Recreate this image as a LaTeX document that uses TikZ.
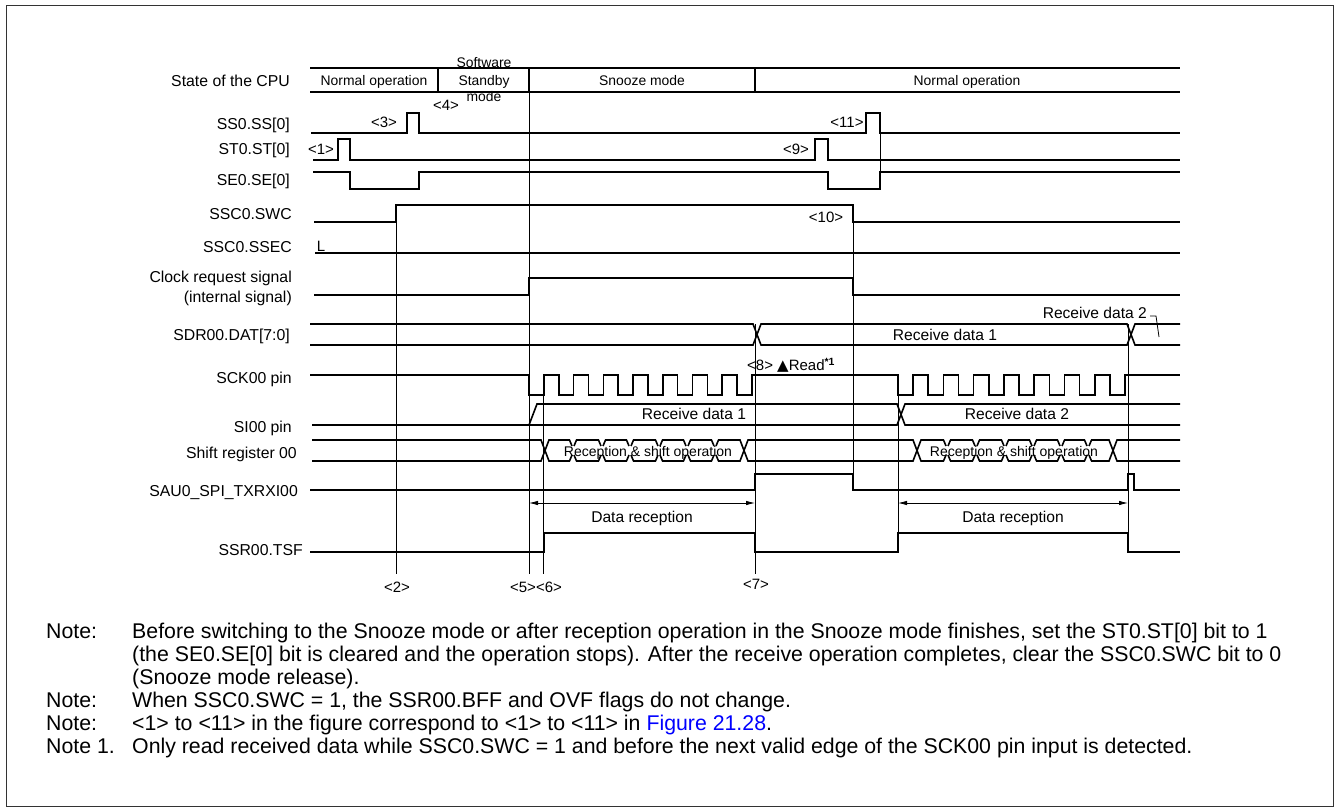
\documentclass[tikz,border=0pt]{standalone}
\usepackage{fontspec}
\setmainfont{Liberation Sans}
\newfontfamily\dejavu{DejaVu Sans}
\usetikzlibrary{arrows.meta}
\definecolor{linkblue}{RGB}{0,0,255}
\newcommand\lblsize{\fontsize{15.8}{18}\selectfont}
\newcommand\cpusize{\fontsize{13.9}{16}\selectfont}
\newcommand\txtsize{\fontsize{15.6}{18}\selectfont}
\newcommand\shsize{\fontsize{14}{16}\selectfont}
\newcommand\evtsize{\fontsize{15}{17}\selectfont}
\newcommand\notesize{\fontsize{21.3}{23}\selectfont}
\begin{document}
\begin{tikzpicture}[x=1pt,y=-1pt,
  wave/.style={line width=1.6pt, line join=miter},
  guide/.style={line width=0.8pt},
  frame/.style={line width=1pt, draw=black!80},
  lbl/.style={anchor=east, inner sep=0pt, font=\lblsize, text height=11.3pt, text depth=0pt},
  evt/.style={inner sep=0pt, font=\evtsize, text height=10.7pt, text depth=0pt},
  txt/.style={inner sep=0pt, font=\txtsize, text height=11.2pt, text depth=0pt},
  shtxt/.style={inner sep=0pt, font=\shsize, text height=10pt, text depth=0pt},
  cpu/.style={inner sep=0pt, font=\cpusize, text height=10pt, text depth=0pt},
  note/.style={anchor=west, inner sep=0pt, font=\notesize, text height=15.3pt, text depth=0pt},
  dim/.style={line width=0.8pt, {Latex[length=9pt,width=4.5pt]}-{Latex[length=9pt,width=4.5pt]}},
  gap/.style={fill=white, draw=none}
]
\useasboundingbox (0,0) rectangle (1340,810);
\draw[frame] (6,6) rectangle (1333,806);

% ---------- signal labels ----------
\node[lbl] (lcpu) at (290,81) {State of the CPU};
\node[lbl] (lss) at (290,124) {SS0.SS[0]};
\node[lbl] (lst) at (290,149) {ST0.ST[0]};
\node[lbl] (lse) at (290,180) {SE0.SE[0]};
\node[lbl] (lswc) at (292,214) {SSC0.SWC};
\node[lbl] (lssec) at (292,247) {SSC0.SSEC};
\node[lbl] (lclk) at (292,277) {Clock request signal};
\node[lbl] (lint) at (292,297) {(internal signal)};
\node[lbl] (lsdr) at (290,335) {SDR00.DAT[7:0]};
\node[lbl] (lsck) at (292,378) {SCK00 pin};
\node[lbl] (lsi) at (292,427) {SI00 pin};
\node[lbl] (lsh) at (297,453) {Shift register 00};
\node[lbl] (lsau) at (298,491) {SAU0\_SPI\_TXRXI00};
\node[lbl] (ltsf) at (303,550) {SSR00.TSF};

% ---------- CPU state row ----------
\draw[wave] (310,68) -- (1180,68);
\draw[wave] (310,92) -- (1180,92);
\draw[wave] (438,68) -- (438,92);
\draw[wave] (529,68) -- (529,92);
\draw[wave] (755,68) -- (755,92);
\node[cpu] (c1) at (374,81) {Normal operation};
\node[cpu] (c2a) at (484,63) {Software};
\node[cpu] (c2b) at (484,81) {Standby};
\node[cpu] (c2c) at (484,97) {mode};
\node[cpu] (c3) at (642,81) {Snooze mode};
\node[cpu] (c4) at (967,81) {Normal operation};

% ---------- guide lines ----------
\draw[guide] (529,92) -- (529,574);
\draw[guide] (396,205) -- (396,574);
\draw[guide] (543,375) -- (543,574);
\draw[guide] (755,324) -- (755,574);
\draw[guide] (853,205) -- (853,490);
\draw[guide] (880,113) -- (880,189);
\draw[guide] (898,375) -- (898,533);
\draw[guide] (1128,324) -- (1128,552);

% ---------- SS0 / ST0 / SE0 ----------
\draw[wave] (311,133) -- (407,133) -- (407,113) -- (419,113) -- (419,133) -- (866,133) -- (866,113) -- (880,113) -- (880,133) -- (1180,133);
\draw[wave] (313,160) -- (338,160) -- (338,139) -- (350,139) -- (350,160) -- (815,160) -- (815,139) -- (828,139) -- (828,160) -- (1180,160);
\draw[wave] (313,172) -- (350,172) -- (350,189) -- (419,189) -- (419,172) -- (828,172) -- (828,189) -- (880,189) -- (880,172) -- (1180,172);
\node[evt] (e1) at (321,149) {<1>};
\node[evt] (e3) at (384,122) {<3>};
\node[evt] (e4) at (446,105) {<4>};
\node[evt] (e9) at (796,149) {<9>};
\node[evt] (e11) at (847,122) {<11>};

% ---------- SWC / SSEC / clock request ----------
\draw[wave] (314,222) -- (396,222) -- (396,205) -- (853,205) -- (853,222) -- (1180,222);
\node[evt] (e10) at (826,217) {<10>};
\draw[wave] (315,253) -- (1180,253);
\node[evt] (lL) at (321,246) {L};
\draw[wave] (314,295) -- (529,295) -- (529,278) -- (853,278) -- (853,295) -- (1180,295);

% ---------- SDR00 ----------
\draw[wave] (310,324) -- (753,324) -- (761,345) -- (1127,345) -- (1135,324) -- (1180,324);
\draw[wave] (310,345) -- (753,345) -- (761,324) -- (1127,324) -- (1135,345) -- (1180,345);
\node[txt] (rd1) at (945,335) {Receive data 1};
\node[txt, anchor=east] (rd2) at (1147,313) {Receive data 2};
\coordinate (hk1) at (1150,316);
\coordinate (hk2) at (1156,316);
\coordinate (hk3) at (1159,337);
\draw[guide] (hk1) -- (hk2) -- (hk3);

% ---------- SCK00 ----------
\draw[wave] (310,375) -- (529,375)
  \foreach \k in {0,...,7} { -- ({529+2*\k*14.867},395) -- ({529+(2*\k+1)*14.867},395) -- ({529+(2*\k+1)*14.867},375) -- ({529+(2*\k+2)*14.867},375) }
  -- (898,375)
  \foreach \k in {0,...,7} { -- ({898+2*\k*15.133},395) -- ({898+(2*\k+1)*15.133},395) -- ({898+(2*\k+1)*15.133},375) -- ({898+(2*\k+2)*15.133},375) }
  -- (1180,375);
\node[evt, anchor=west] (rd) at (747,365) {<8> {\dejavu ▲}Read\textsuperscript{\bfseries *1}};

% ---------- SI00 ----------
\draw[wave] (312,425) -- (897,425) -- (905,404) -- (1180,404);
\draw[wave] (529,425) -- (537,404) -- (897,404) -- (905,425) -- (1180,425);
\node[txt] (si1) at (694,414) {Receive data 1};
\node[txt] (si2) at (1017,414) {Receive data 2};

% ---------- Shift register ----------
\draw[wave] (312,440) -- (541,440) -- (549,461) -- (740,461) -- (748,440) -- (913,440) -- (921,461) -- (1109,461) -- (1117,440) -- (1180,440);
\draw[wave] (312,461) -- (541,461) -- (549,440) -- (740,440) -- (748,461) -- (913,461) -- (921,440) -- (1109,440) -- (1117,461) -- (1180,461);
\foreach \n in {573,602,630,659,687,715,947,976,1005,1033,1061,1088} {
  \fill[gap] (\n-2.8,438) rectangle (\n+2.8,442);
  \fill[gap] (\n-2.8,459) rectangle (\n+2.8,463);
  \draw[wave] (\n-3.5,440) -- (\n-1,446);
  \draw[wave] (\n+1,446) -- (\n+3.5,440);
  \draw[wave] (\n-3.5,461) -- (\n-1,455);
  \draw[wave] (\n+1,455) -- (\n+3.5,461);
}
\node[shtxt] (sh1) at (648,451) {Reception \& shift operation};
\node[shtxt] (sh2) at (1014,451) {Reception \& shift operation};

% ---------- SAU0_SPI_TXRXI00 ----------
\draw[wave] (310,490) -- (755,490) -- (755,474) -- (853,474) -- (853,490) -- (1128,490) -- (1128,474) -- (1134,474) -- (1134,490) -- (1180,490);

% ---------- data reception arrows ----------
\coordinate (a1) at (529,503);
\coordinate (a2) at (755,503);
\coordinate (a3) at (898,503);
\coordinate (a4) at (1128,503);
\draw[dim] (a1) -- (a2);
\draw[dim] (a3) -- (a4);
\node[txt] (dr1) at (642,517) {Data reception};
\node[txt] (dr2) at (1013,517) {Data reception};

% ---------- SSR00.TSF ----------
\draw[wave] (310,552) -- (544,552) -- (544,533) -- (755,533) -- (755,552) -- (898,552) -- (898,533) -- (1128,533) -- (1128,552) -- (1180,552);

% ---------- bottom event labels ----------
\node[evt] (e2) at (397,587) {<2>};
\node[evt] (e56) at (536,587) {<5><6>};
\node[evt] (e7) at (756,584) {<7>};

% ---------- notes ----------
\node[note] (n1h) at (46,631) {Note:};
\node[note] (n1a) at (132,631) {Before switching to the Snooze mode or after reception operation in the Snooze mode finishes, set the ST0.ST[0] bit to 1};
\node[note] (n1b) at (132,654) {(the SE0.SE[0] bit is cleared and the operation stops). After the receive operation completes, clear the SSC0.SWC bit to 0};
\node[note] (n1c) at (132,677) {(Snooze mode release).};
\node[note] (n2h) at (46,700) {Note:};
\node[note] (n2) at (132,700) {When SSC0.SWC = 1, the SSR00.BFF and OVF flags do not change.};
\node[note] (n3h) at (46,723) {Note:};
\node[note] (n3) at (132,723) {<1> to <11> in the figure correspond to <1> to <11> in \textcolor{linkblue}{Figure 21.28}.};
\node[note] (n4h) at (46,746) {Note 1.};
\node[note] (n4) at (132,746) {Only read received data while SSC0.SWC = 1 and before the next valid edge of the SCK00 pin input is detected.};
\end{tikzpicture}
\end{document}
